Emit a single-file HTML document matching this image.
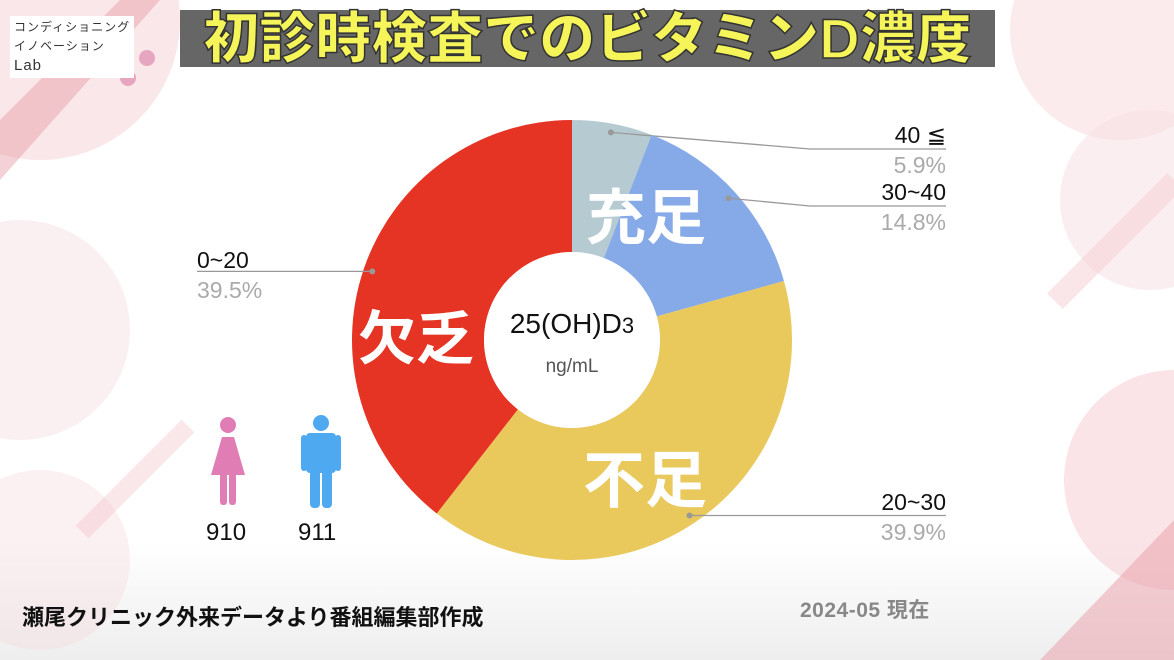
<!DOCTYPE html>
<html><head><meta charset="utf-8">
<style>
body{margin:0;width:1174px;height:660px;overflow:hidden;background:#fff;font-family:"Liberation Sans","Noto Sans CJK JP",sans-serif;position:relative}
.abs{position:absolute}
</style></head>
<body>
<svg class="abs" style="left:0;top:0" width="1174" height="660">
<defs><linearGradient id="bg" x1="0" y1="0" x2="0" y2="1"><stop offset="0.82" stop-color="#fff"/><stop offset="1" stop-color="#eeeeee"/></linearGradient></defs>
<rect width="1174" height="660" fill="url(#bg)"/>
<circle cx="40" cy="20" r="140" fill="#f4c9cf" opacity="0.45"/>
<polygon points="0,120 120,0 160,0 0,180" fill="#e79aa4" opacity="0.45"/>
<circle cx="20" cy="330" r="110" fill="#f7dde1" opacity="0.45"/>
<circle cx="40" cy="560" r="90" fill="#f6d6db" opacity="0.35"/>
<rect x="60" y="470" width="150" height="18" fill="#f3c3ca" opacity="0.4" transform="rotate(-45 135 479)"/>
<circle cx="1120" cy="30" r="110" fill="#f6d2d8" opacity="0.45"/>
<circle cx="1150" cy="200" r="90" fill="#f7dde1" opacity="0.5"/>
<rect x="1030" y="230" width="170" height="22" fill="#f5ccd2" opacity="0.5" transform="rotate(-45 1115 241)"/>
<circle cx="1174" cy="480" r="110" fill="#f3c4cb" opacity="0.45"/>
<polygon points="1040,660 1174,520 1174,660" fill="#e99ca6" opacity="0.5"/>
<circle cx="147" cy="58" r="8" fill="#e6a6c0"/>
<circle cx="128" cy="78" r="8" fill="#e6a6c0"/>
</svg>

<div class="abs" style="left:10px;top:16px;background:#fff;padding:2px 4px;font-size:12px;line-height:19px;color:#333;letter-spacing:1px">コンディショニング<br>イノベーション<br><span style="font-size:15px">Lab</span></div>

<div class="abs" style="left:180px;top:10px;width:815px;height:57px;background:#666;color:#f5f55a;font-size:56px;font-weight:900;line-height:57px;text-align:center;letter-spacing:0px;white-space:nowrap;-webkit-text-stroke:1.5px #333">初診時検査でのビタミンD濃度</div>

<svg id="chart" class="abs" style="left:0;top:0" width="1174" height="660"></svg>

<div class="abs" style="left:472px;top:308px;width:200px;text-align:center;font-size:28px;color:#111">25(OH)D<span style="font-size:22px">3</span></div>
<div class="abs" style="left:472px;top:356px;width:200px;text-align:center;font-size:19px;color:#555">ng/mL</div>

<div class="abs" style="left:586px;top:170px;font-size:60px;font-weight:bold;color:#fff">充足</div>
<div class="abs" style="left:583px;top:430px;font-size:62px;font-weight:bold;color:#fff">不足</div>
<div class="abs" style="left:358px;top:292px;font-size:58px;font-weight:bold;color:#fff">欠乏</div>

<svg class="abs" style="left:205px;top:415px" width="46" height="92" viewBox="0 0 46 92">
<circle cx="23" cy="10" r="8" fill="#e07db5"/><path d="M6 60 L17 22 L29 22 L40 60 Z" fill="#e07db5"/><rect x="15" y="58" width="7" height="32" rx="3" fill="#e07db5"/><rect x="24" y="58" width="7" height="32" rx="3" fill="#e07db5"/></svg>
<svg class="abs" style="left:300px;top:413px" width="42" height="96" viewBox="0 0 42 96">
<circle cx="21" cy="10" r="8" fill="#4fa9f0"/><rect x="6" y="20" width="30" height="40" rx="4" fill="#4fa9f0"/><rect x="1" y="22" width="6" height="36" rx="3" fill="#4fa9f0"/><rect x="35" y="22" width="6" height="36" rx="3" fill="#4fa9f0"/><rect x="10" y="55" width="10" height="40" rx="4" fill="#4fa9f0"/><rect x="22" y="55" width="10" height="40" rx="4" fill="#4fa9f0"/></svg>
<div class="abs" style="left:206px;top:519px;font-size:24px;color:#111">910</div>
<div class="abs" style="left:298px;top:519px;font-size:24px;color:#111">911</div>

<div class="abs" style="left:22px;top:600px;font-size:22px;font-weight:bold;color:#111;white-space:nowrap">瀬尾クリニック外来データより番組編集部作成</div>
<div class="abs" style="left:800px;top:594px;font-size:21px;font-weight:bold;color:#888;white-space:nowrap;letter-spacing:0.5px">2024-05 現在</div>

<script>
const categories=["40 ≦","30~40","20~30","0~20"];
const values=[5.9,14.8,39.9,39.5];
const valueLabels=["5.9%","14.8%","39.9%","39.5%"];
const colors=["#b6cbd1","#86a9e8","#e9c85c","#e53324"];
const svg=document.getElementById('chart');
const NS="http://www.w3.org/2000/svg";
const cx=572,cy=340,R=220,r=88;
const total=values.reduce((a,b)=>a+b,0);
function pt(a,rad){return [cx+rad*Math.sin(a),cy-rad*Math.cos(a)];}
function mk(t,attrs){const e=document.createElementNS(NS,t);for(const k in attrs)e.setAttribute(k,attrs[k]);svg.appendChild(e);return e;}
const labelY=[133,190,500,258];
let acc=0;
values.forEach((v,i)=>{
  const a0=acc/total*2*Math.PI;acc+=v;const a1=acc/total*2*Math.PI;
  const large=(a1-a0)>Math.PI?1:0;
  const [x0,y0]=pt(a0,R),[x1,y1]=pt(a1,R),[x2,y2]=pt(a1,r),[x3,y3]=pt(a0,r);
  const p=mk('path',{d:`M${x0},${y0} A${R},${R} 0 ${large} 1 ${x1},${y1} L${x2},${y2} A${r},${r} 0 ${large} 0 ${x3},${y3} Z`,fill:colors[i]});
  
  
  const am=(a0+a1)/2;const [dx,dy]=pt(am,R*0.96);
  const ly=labelY[i];const right=Math.sin(am)>=0;
  const lineY=ly+16;
  let pts;
  if(right){pts=(dy>cy)?`${dx},${dy} 946,${dy}`:`${dx},${dy} 810,${lineY} 946,${lineY}`;}
  else{pts=`${dx},${dy} 197,${dy}`;}
  const ln=mk('polyline',{points:pts,fill:'none',stroke:'#999','stroke-width':1.3});
  
  
  const dot=mk('circle',{cx:dx,cy:dy,r:3,fill:'#999'});
  
  
  const anchor=right?'end':'start';const tx=right?946:197;
  const t1=mk('text',{x:tx,y:ly+10,'text-anchor':anchor,'font-size':23,fill:'#111','font-family':'Liberation Sans, sans-serif'});
  t1.textContent=categories[i];
  
  
  const t2=mk('text',{x:tx,y:ly+40,'text-anchor':anchor,'font-size':23,fill:'#aaa','font-family':'Liberation Sans, sans-serif'});
  t2.textContent=valueLabels[i];
  
  
});
const hole=mk('circle',{cx:cx,cy:cy,r:r,fill:'#fff'});


</script>
</body></html>
